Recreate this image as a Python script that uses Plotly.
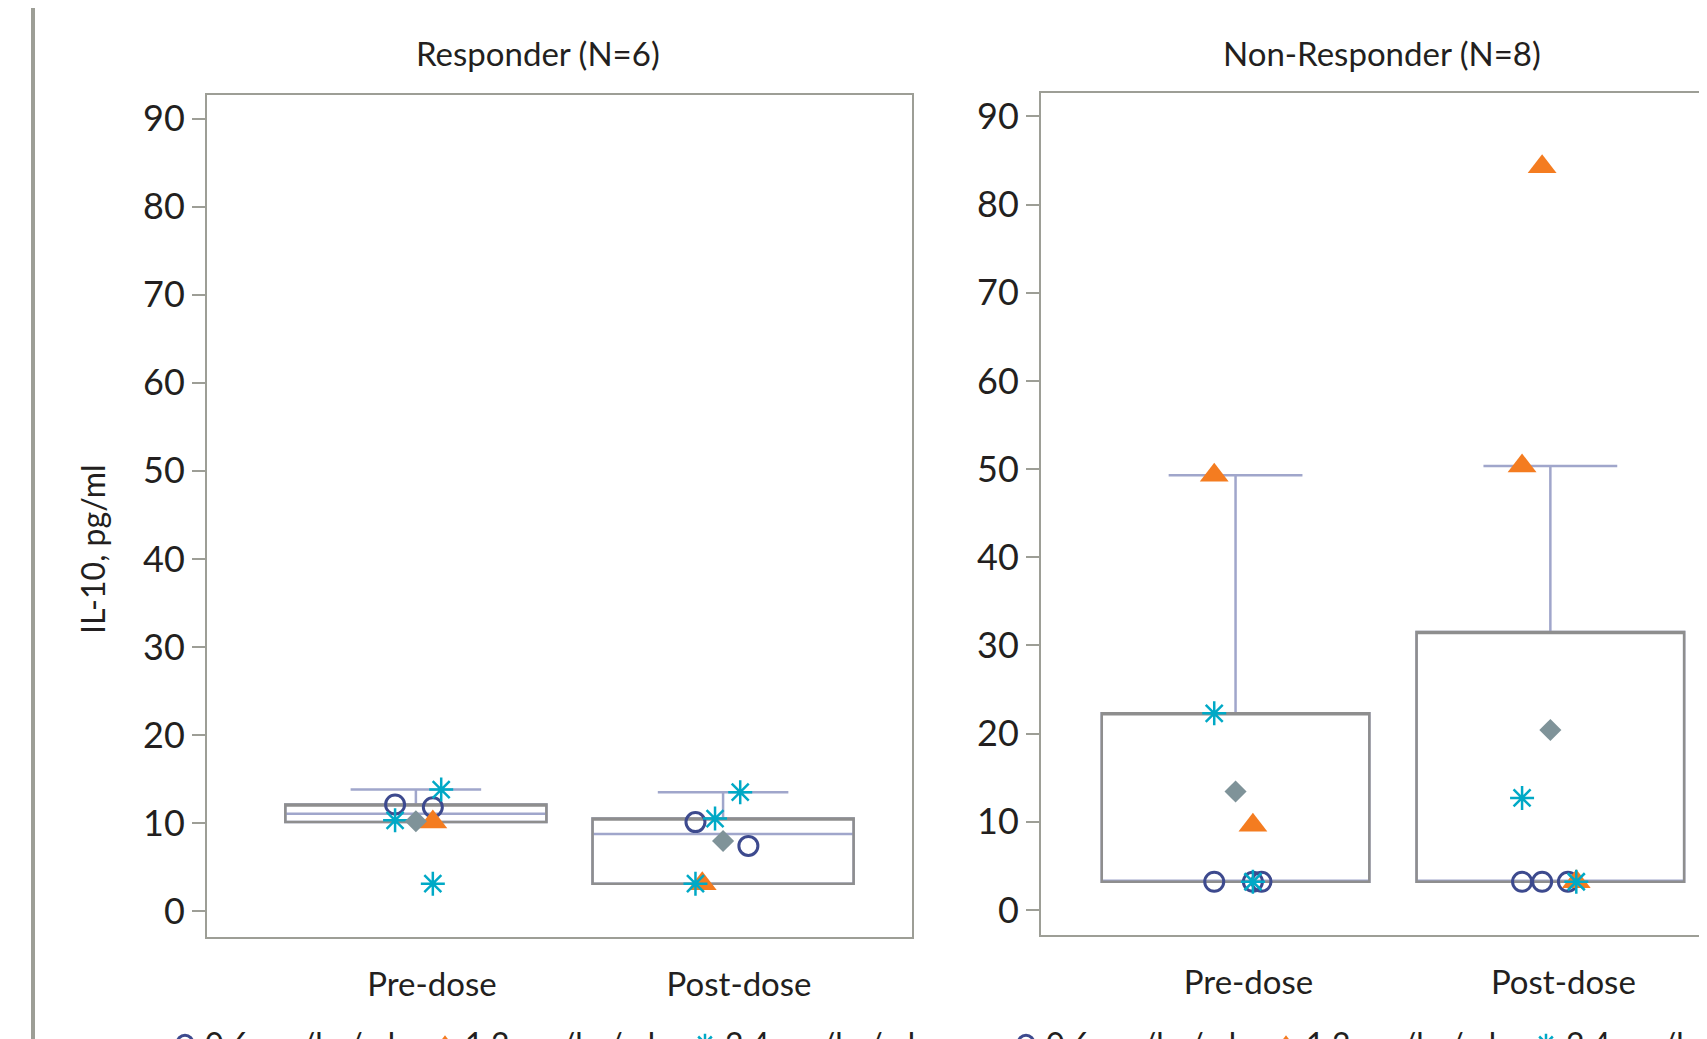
import math
import plotly.graph_objects as go

# ---------------- data ----------------
timepoints = ["Pre-dose", "Post-dose"]
dose_labels = ["0.6 mg/kg/wk", "1.2 mg/kg/wk", "2.4 mg/kg/wk"]
panel_titles = ["Responder (N=6)", "Non-Responder (N=8)"]
y_title = "IL-10, pg/ml"
y_tickvals = [0, 10, 20, 30, 40, 50, 60, 70, 80, 90]

# Responder (N=6), IL-10 pg/ml by dose group
resp_pre_06 = [12.1, 11.8]
resp_pre_12 = [10.1]
resp_pre_24 = [13.8, 10.3, 3.1]
resp_post_06 = [10.1, 7.4]
resp_post_12 = [3.1]
resp_post_24 = [13.5, 10.5, 3.1]

# Non-Responder (N=8), IL-10 pg/ml by dose group
nonresp_pre_06 = [3.2, 3.2, 3.2]
nonresp_pre_12 = [49.3, 9.6]
nonresp_pre_24 = [22.3, 3.2]
nonresp_post_06 = [3.2, 3.2, 3.2]
nonresp_post_12 = [84.3, 50.35, 3.2]
nonresp_post_24 = [12.7, 3.2]

panels = [
    {"pre": [resp_pre_06, resp_pre_12, resp_pre_24],
     "post": [resp_post_06, resp_post_12, resp_post_24]},
    {"pre": [nonresp_pre_06, nonresp_pre_12, nonresp_pre_24],
     "post": [nonresp_post_06, nonresp_post_12, nonresp_post_24]},
]

# ---------------- styles ----------------
FONT = "Lato"
TXT = "#231f20"
FRAME = "#9d9e96"
BOX_GREY = "#8e8e8e"
WHISK = "#a0a6cb"
MEAN_C = "#7f9399"
dose_styles = [
    dict(symbol="circle-open", size=19, color="#3d4a8e", line=dict(width=3, color="#3d4a8e")),
    dict(symbol="triangle-up", size=25, color="#f47c20", line=dict(width=0, color="#f47c20")),
    dict(symbol="asterisk-open", size=20, color="#00a9c6", line=dict(width=2.5, color="#00a9c6")),
]
BOX_W = 0.85

W, H = 1707, 1039
OFF = 8  # page body offset


def px_x(v):
    return (v - OFF) / W


def px_y(v):
    return 1 - (v - OFF) / H


def sas_q(vals, p):
    x = sorted(vals)
    n = len(x)
    npv = n * p
    j = int(math.floor(npv + 1e-9))
    g = npv - j
    if abs(g) < 1e-9:
        return (x[j - 1] + x[j]) / 2.0
    return x[j]


def stats(vals):
    q1 = sas_q(vals, 0.25)
    med = sas_q(vals, 0.5)
    q3 = sas_q(vals, 0.75)
    iqr = q3 - q1
    lo = min(v for v in vals if v >= q1 - 1.5 * iqr)
    hi = max(v for v in vals if v <= q3 + 1.5 * iqr)
    mean = sum(vals) / len(vals)
    return q1, med, q3, lo, hi, mean


fig = go.Figure()

axes = [("x", "y"), ("x2", "y2")]
legends = ["legend", "legend2"]

for pi, panel in enumerate(panels):
    xa, ya = axes[pi]
    groups = [sum(panel["pre"], []), sum(panel["post"], [])]
    st = [stats(g) for g in groups]
    q1 = [s[0] for s in st]
    med = [s[1] for s in st]
    q3 = [s[2] for s in st]
    lo = [s[3] for s in st]
    hi = [s[4] for s in st]
    mn = [s[5] for s in st]

    # whiskers + median (light purple)
    fig.add_trace(go.Box(
        x=timepoints, q1=q1, median=med, q3=q3, lowerfence=lo, upperfence=hi,
        width=BOX_W, whiskerwidth=0.5, boxpoints=False,
        line=dict(color=WHISK, width=2.5), fillcolor="rgba(0,0,0,0)",
        xaxis=xa, yaxis=ya, showlegend=False, hoverinfo="skip"))
    # box outline (grey) on top
    fig.add_trace(go.Box(
        x=timepoints, q1=q1, median=q3, q3=q3, lowerfence=q1, upperfence=q3,
        width=BOX_W, whiskerwidth=0, boxpoints=False,
        line=dict(color=BOX_GREY, width=2.5), fillcolor="rgba(0,0,0,0)",
        xaxis=xa, yaxis=ya, showlegend=False, hoverinfo="skip"))
    # mean diamonds
    fig.add_trace(go.Scatter(
        x=timepoints, y=mn, mode="markers",
        marker=dict(symbol="diamond", size=17, color=MEAN_C),
        xaxis=xa, yaxis=ya, showlegend=False, hoverinfo="skip"))
    # individual points by dose group (jittered by plotly)
    for di in range(3):
        xs, ys = [], []
        for ti, key in enumerate(["pre", "post"]):
            vals = panel[key][di]
            xs += [timepoints[ti]] * len(vals)
            ys += vals
        sty = dose_styles[di]
        fig.add_trace(go.Box(
            x=xs, y=ys, boxpoints="all", jitter=0.25, pointpos=0,
            width=BOX_W, line=dict(width=0, color="rgba(0,0,0,0)"),
            fillcolor="rgba(0,0,0,0)",
            marker=dict(symbol=sty["symbol"], size=sty["size"], color=sty["color"],
                        line=sty["line"], opacity=1),
            xaxis=xa, yaxis=ya, showlegend=False, name=dose_labels[di]))
    # legend entries
    for di in range(3):
        sty = dose_styles[di]
        fig.add_trace(go.Scatter(
            x=[None], y=[None], mode="markers", name=dose_labels[di],
            marker=dict(symbol=sty["symbol"], size=sty["size"], color=sty["color"],
                        line=sty["line"]),
            xaxis=xa, yaxis=ya, legend=legends[pi], showlegend=True))

axis_common = dict(showline=True, linecolor=FRAME, linewidth=2, showgrid=False,
                   zeroline=False)

fig.update_layout(
    width=W, height=H,
    margin=dict(l=0, r=0, t=0, b=0, autoexpand=False),
    paper_bgcolor="white", plot_bgcolor="white",
    boxmode="overlay",
    font=dict(family=FONT, color=TXT),
    xaxis=dict(domain=[px_x(207), px_x(912)], type="category", range=[-0.68, 1.615],
               mirror=True, ticks="", tickfont=dict(size=33, color=TXT),
               ticklabelshift=16, ticklabelstandoff=17, anchor="y", **axis_common),
    yaxis=dict(domain=[px_y(937), px_y(95)], range=[-2.95, 92.7],
               tickvals=y_tickvals, ticks="outside", ticklen=13, tickwidth=2,
               tickcolor=FRAME, tickfont=dict(size=36, color=TXT), mirror=True,
               ticklabelstandoff=0, anchor="x", **axis_common),
    xaxis2=dict(domain=[px_x(1041), 1.0], type="category", range=[-0.618, 1.523],
                mirror=True, ticks="", tickfont=dict(size=33, color=TXT),
                ticklabelshift=13, ticklabelstandoff=17, anchor="y2", **axis_common),
    yaxis2=dict(domain=[px_y(935), px_y(93)], range=[-2.84, 92.66],
                tickvals=y_tickvals, ticks="outside", ticklen=13, tickwidth=2,
                tickcolor=FRAME, tickfont=dict(size=36, color=TXT), mirror=False,
                ticklabelstandoff=0, anchor="x2", **axis_common),
    legend=dict(orientation="h", x=px_x(165), y=px_y(1016), xanchor="left", yanchor="top",
                font=dict(size=32, color=TXT), bgcolor="rgba(0,0,0,0)", itemwidth=30,
                entrywidth=215),
    legend2=dict(orientation="h", x=px_x(1006), y=px_y(1016), xanchor="left", yanchor="top",
                 font=dict(size=32, color=TXT), bgcolor="rgba(0,0,0,0)", itemwidth=30,
                 entrywidth=215),
    annotations=[
        dict(text=panel_titles[0], x=px_x(538), y=px_y(53), xref="paper", yref="paper",
             showarrow=False, font=dict(size=33, color=TXT), xanchor="center", yanchor="middle"),
        dict(text=panel_titles[1], x=px_x(1382), y=px_y(53), xref="paper", yref="paper",
             showarrow=False, font=dict(size=33, color=TXT), xanchor="center", yanchor="middle"),
        dict(text=y_title, x=px_x(92), y=px_y(549), xref="paper", yref="paper",
             showarrow=False, textangle=-90, font=dict(size=32, color=TXT),
             xanchor="center", yanchor="middle"),
    ],
    shapes=[
        dict(type="line", xref="paper", yref="paper", x0=px_x(33), x1=px_x(33), y0=0, y1=1.02,
             line=dict(color=FRAME, width=4)),
    ],
)

fig.write_html("out.html")
